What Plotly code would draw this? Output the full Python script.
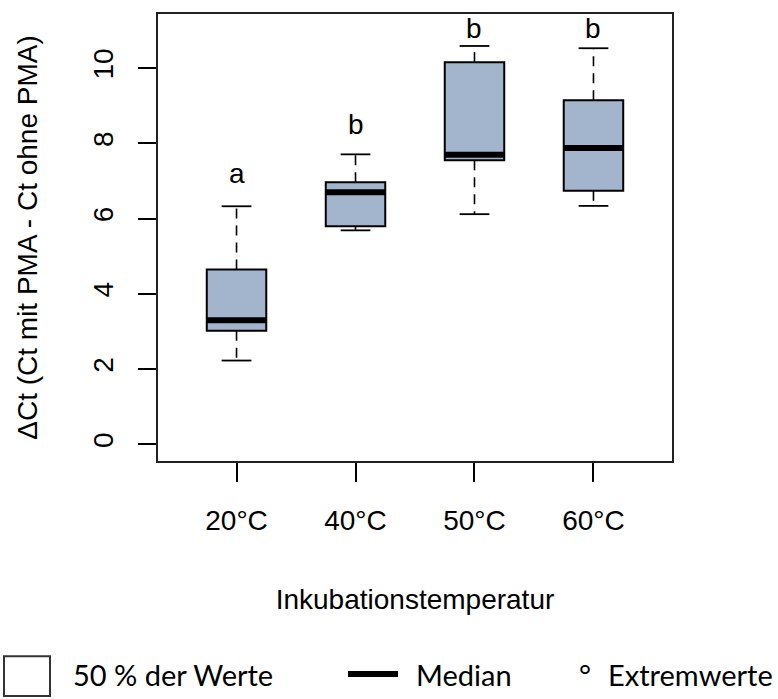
import plotly.graph_objects as go

# Delta-Ct per incubation temperature (box-plot statistics)
temps = ["20°C", "40°C", "50°C", "60°C"]
lower_whisker = [2.23, 5.69, 6.12, 6.34]
q1 = [3.02, 5.80, 7.55, 6.74]
median = [3.30, 6.70, 7.70, 7.88]
q3 = [4.65, 6.97, 10.16, 9.15]
upper_whisker = [6.33, 7.71, 10.59, 10.53]

# significance groups written above each box
group_letters = ["a", "b", "b", "b"]
letter_y = [7.2, 8.5, 11.05, 11.05]

y_ticks = [0, 2, 4, 6, 8, 10]

W, H = 778, 699
M_L, M_R, M_T, M_B = 158, 106, 12, 238
BOX_FILL = "#A2B5CD"
BOX_W = 0.5
STAPLE_W = BOX_W / 2
FONT = "Liberation Sans, Arial, sans-serif"
LEG_FONT = "Lato, Noto Sans, sans-serif"

pos = list(range(1, len(temps) + 1))

fig = go.Figure()

for i, x in enumerate(pos):
    # box (Q1 .. Q3) with the fences tied to the box, whiskers drawn separately
    fig.add_trace(go.Box(
        x=[x], q1=[q1[i]], median=[median[i]], q3=[q3[i]],
        lowerfence=[q1[i]], upperfence=[q3[i]],
        width=BOX_W, whiskerwidth=0,
        fillcolor=BOX_FILL, line=dict(color="black", width=2),
        boxpoints=False, showlegend=False, hoverinfo="skip",
    ))

    # dashed whiskers
    for a, b in ((q3[i], upper_whisker[i]), (q1[i], lower_whisker[i])):
        fig.add_trace(go.Scatter(
            x=[x, x], y=[a, b], mode="lines",
            line=dict(color="black", width=1.6, dash="10px,7px"),
            showlegend=False, hoverinfo="skip",
        ))

    # staples
    for v in (upper_whisker[i], lower_whisker[i]):
        fig.add_trace(go.Scatter(
            x=[x - STAPLE_W / 2, x + STAPLE_W / 2], y=[v, v], mode="lines",
            line=dict(color="black", width=1.8),
            showlegend=False, hoverinfo="skip",
        ))

    # bold median bar
    fig.add_trace(go.Scatter(
        x=[x - BOX_W / 2, x + BOX_W / 2], y=[median[i], median[i]], mode="lines",
        line=dict(color="black", width=6),
        showlegend=False, hoverinfo="skip",
    ))

    fig.add_annotation(
        x=x, y=letter_y[i], xref="x", yref="y", text=group_letters[i],
        showarrow=False, font=dict(family=FONT, size=28, color="black"),
        xanchor="center", yanchor="middle",
    )

# ---- legend row below the plot (pixel positions -> paper coords) ----
PW = W - M_L - M_R
PH = H - M_T - M_B


def px(xp):
    return (xp - M_L) / PW


def py(yp):
    return (H - M_B - yp) / PH


fig.add_shape(type="rect", xref="paper", yref="paper",
              x0=px(4), x1=px(50), y0=py(697), y1=py(657),
              line=dict(color="#333333", width=2), fillcolor="white")
fig.add_shape(type="line", xref="paper", yref="paper",
              x0=px(348), x1=px(398), y0=py(675), y1=py(675),
              line=dict(color="black", width=6))

legend_items = [
    ("50 % der Werte", 71),
    ("Median", 414),
    ("°", 577),
    ("Extremwerte", 606),
]
for txt, xl in legend_items:
    fig.add_annotation(
        x=px(xl), y=py(675), xref="paper", yref="paper", text=txt,
        showarrow=False, xanchor="left", yanchor="middle",
        font=dict(family=LEG_FONT, size=29, color="black"),
    )

fig.update_layout(
    width=W, height=H,
    margin=dict(l=M_L, r=M_R, t=M_T, b=M_B),
    plot_bgcolor="white", paper_bgcolor="white",
    font=dict(family=FONT, size=28, color="black"),
    showlegend=False,
)

fig.update_xaxes(
    range=[0.34, 4.66],
    tickmode="array", tickvals=pos, ticktext=temps,
    ticks="outside", ticklen=19, tickwidth=1.6, tickcolor="black",
    ticklabelstandoff=14,
    showgrid=False, zeroline=False,
    showline=True, mirror=True, linecolor="#222222", linewidth=2,
    title=dict(text="Inkubationstemperatur", standoff=55,
               font=dict(family=FONT, size=28)),
    tickfont=dict(family=FONT, size=28),
)

fig.update_yaxes(
    range=[-0.44, 11.44],
    tickmode="array", tickvals=y_ticks,
    tickangle=-90,
    ticks="outside", ticklen=18, tickwidth=1.6, tickcolor="black",
    ticklabelstandoff=14,
    showgrid=False, zeroline=False,
    showline=True, mirror=True, linecolor="#222222", linewidth=2,
    title=dict(text="ΔCt (Ct mit PMA - Ct ohne PMA)", standoff=42,
               font=dict(family=FONT, size=28)),
    tickfont=dict(family=FONT, size=28),
)

fig.write_html("out.html")
